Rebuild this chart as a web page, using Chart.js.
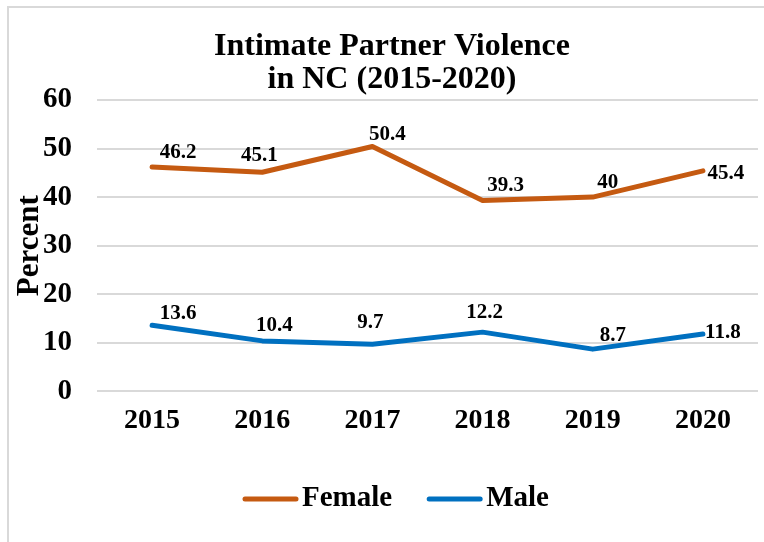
<!DOCTYPE html>
<html>
<head>
<meta charset="utf-8">
<script src="https://cdn.jsdelivr.net/npm/chart.js@4/dist/chart.umd.min.js"></script>
<style>
  html, body { margin: 0; padding: 0; background: #fff; overflow: hidden; }
  #wrap { position: relative; width: 764px; height: 542px; }
  #frame {
    position: absolute; left: 7px; top: 6px; width: 800px; height: 600px;
    border: 2px solid #d9d9d9; box-sizing: border-box;
  }
  #c { position: absolute; left: 0; top: 0; }
</style>
</head>
<body>
<div id="wrap">
  <div id="frame"></div>
  <canvas id="c" width="764" height="542"></canvas>
</div>
<script>
// Survey years and percentages
const years = ['2015', '2016', '2017', '2018', '2019', '2020'];
const female = [46.2, 45.1, 50.4, 39.3, 40, 45.4];
const male = [13.6, 10.4, 9.7, 12.2, 8.7, 11.8];
const yTicks = [0, 10, 20, 30, 40, 50, 60];
const titleLines = ['Intimate Partner Violence', 'in NC (2015-2020)'];

const FONT = '"Liberation Serif", "Times New Roman", serif';
const ORANGE = '#C55A11';
const BLUE = '#0070C0';

// Value label placement relative to each point (dx, dy)
const labelShift = [
  [[26, -14], [-3, -17], [15, -12], [23, -15], [15, -15], [23, 3]],
  [[26, -12], [12, -15], [-2, -22], [2, -20], [20, -14], [20, -1]]
];

const valueLabels = {
  id: 'valueLabels',
  afterDatasetsDraw(chart) {
    const ctx = chart.ctx;
    ctx.save();
    ctx.font = 'bold 21px ' + FONT;
    ctx.fillStyle = '#000';
    ctx.textAlign = 'center';
    ctx.textBaseline = 'middle';
    chart.data.datasets.forEach((ds, di) => {
      const meta = chart.getDatasetMeta(di);
      meta.data.forEach((pt, i) => {
        const [dx, dy] = labelShift[di][i];
        ctx.fillText(String(ds.data[i]), pt.x + dx, pt.y + dy);
      });
    });
    ctx.restore();
  }
};

// Title text, centred over the framed area (the built-in title only reserves space)
const framedTitle = {
  id: 'framedTitle',
  afterDraw(chart) {
    const ctx = chart.ctx;
    ctx.save();
    ctx.font = 'bold 32px ' + FONT;
    ctx.fillStyle = '#000';
    ctx.textAlign = 'center';
    ctx.textBaseline = 'middle';
    titleLines.forEach((t, i) => ctx.fillText(t, 392, 47 + i * 33));
    ctx.restore();
  }
};

// Legend drawn below the axis: rounded line swatch followed by the series name
const lineLegend = {
  id: 'lineLegend',
  afterDraw(chart) {
    const ctx = chart.ctx;
    ctx.save();
    ctx.font = 'bold 29px ' + FONT;
    ctx.textBaseline = 'middle';
    ctx.textAlign = 'left';
    const y = 499;
    const swatch = 55, gap = 4, between = 35;
    const items = chart.data.datasets.map(ds => ({
      text: ds.label, color: ds.borderColor, w: ctx.measureText(ds.label).width
    }));
    const total = items.reduce((s, it) => s + swatch + gap + it.w, 0) + between * (items.length - 1);
    let x = (chart.width - total) / 2 + 14;
    items.forEach(it => {
      ctx.strokeStyle = it.color;
      ctx.lineWidth = 5;
      ctx.lineCap = 'round';
      ctx.beginPath();
      ctx.moveTo(x + 2, y);
      ctx.lineTo(x + swatch - 2, y);
      ctx.stroke();
      ctx.fillStyle = '#000';
      ctx.fillText(it.text, x + swatch + gap, y);
      x += swatch + gap + it.w + between;
    });
    ctx.restore();
  }
};

new Chart(document.getElementById('c'), {
  type: 'line',
  data: {
    labels: years,
    datasets: [
      {
        label: 'Female', data: female,
        borderColor: ORANGE, backgroundColor: ORANGE,
        borderWidth: 5, pointRadius: 0, tension: 0,
        borderCapStyle: 'round', borderJoinStyle: 'round'
      },
      {
        label: 'Male', data: male,
        borderColor: BLUE, backgroundColor: BLUE,
        borderWidth: 5, pointRadius: 0, tension: 0,
        borderCapStyle: 'round', borderJoinStyle: 'round'
      }
    ]
  },
  options: {
    responsive: false,
    animation: false,
    devicePixelRatio: 1,
    layout: { padding: { left: 0, right: 6, top: 0, bottom: 91 } },
    plugins: {
      legend: { display: false },
      tooltip: { enabled: false },
      title: {
        display: true,
        text: titleLines,
        color: 'rgba(0,0,0,0)',
        font: { family: FONT, size: 32, weight: 'bold', lineHeight: 1.03 },
        padding: { top: 31, bottom: 3 }
      }
    },
    scales: {
      x: {
        offset: true,
        grid: { display: false, drawTicks: false },
        border: { display: false },
        ticks: {
          color: '#000', padding: 13,
          font: { family: FONT, size: 28, weight: 'bold' }
        }
      },
      y: {
        min: 0, max: 60,
        afterFit(scale) { scale.width = 97; },
        afterBuildTicks(scale) { scale.ticks = yTicks.map(v => ({ value: v })); },
        grid: { color: '#d9d9d9', lineWidth: 2, drawTicks: false },
        border: { display: false },
        ticks: {
          color: '#000', padding: 25,
          font: { family: FONT, size: 29, weight: 'bold' }
        },
        title: {
          display: true, text: 'Percent', color: '#000',
          font: { family: FONT, size: 31, weight: 'bold' },
          padding: { top: 11, bottom: 0 }
        }
      }
    }
  },
  plugins: [valueLabels, framedTitle, lineLegend]
});
</script>
</body>
</html>
